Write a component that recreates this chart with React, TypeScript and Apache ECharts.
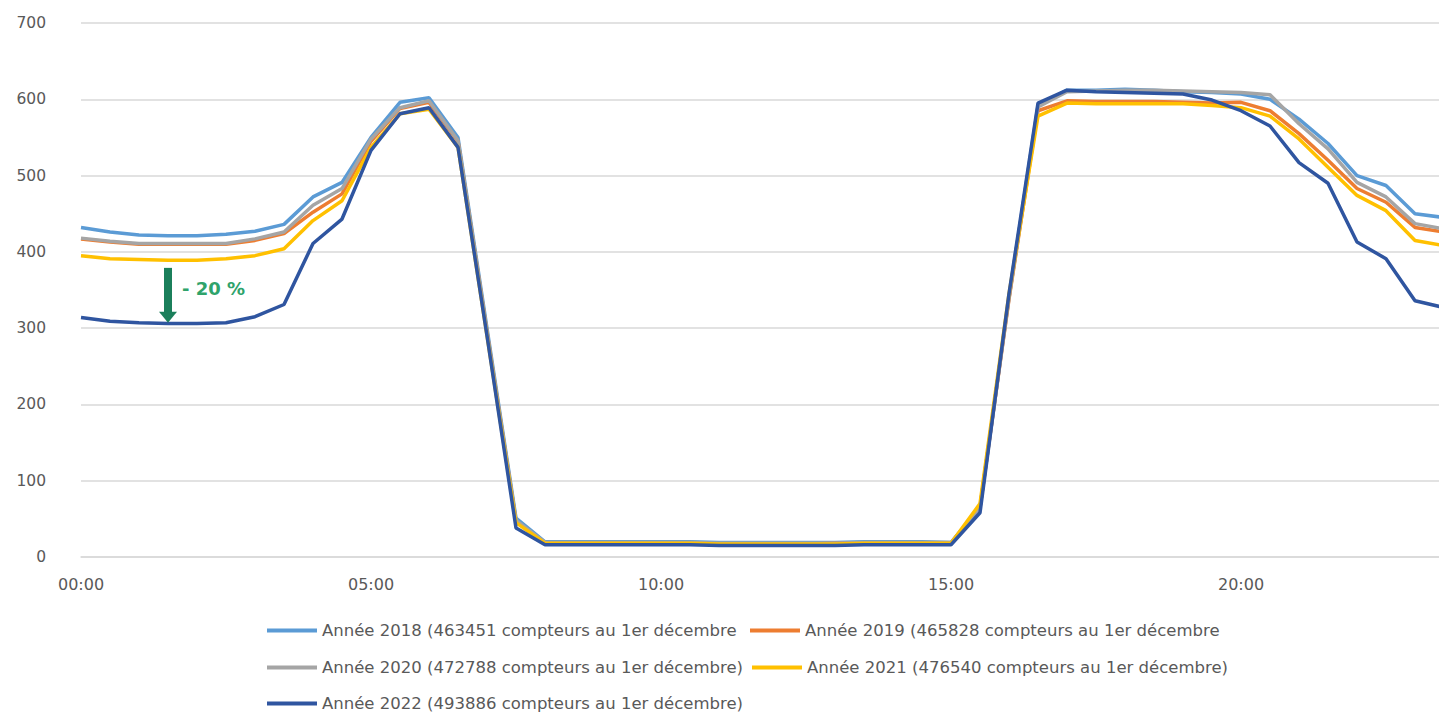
import React, { useEffect, useRef } from "react";
import * as echarts from "echarts";

const times = [
  "00:00", "00:30", "01:00", "01:30", "02:00", "02:30", "03:00", "03:30",
  "04:00", "04:30", "05:00", "05:30", "06:00", "06:30", "07:00", "07:30",
  "08:00", "08:30", "09:00", "09:30", "10:00", "10:30", "11:00", "11:30",
  "12:00", "12:30", "13:00", "13:30", "14:00", "14:30", "15:00", "15:30",
  "16:00", "16:30", "17:00", "17:30", "18:00", "18:30", "19:00", "19:30",
  "20:00", "20:30", "21:00", "21:30", "22:00", "22:30", "23:00", "23:30",
];

const names = [
  "Année 2018 (463451 compteurs au 1er décembre",
  "Année 2019 (465828 compteurs au 1er décembre",
  "Année 2020 (472788 compteurs au 1er décembre)",
  "Année 2021 (476540 compteurs au 1er décembre)",
  "Année 2022 (493886 compteurs au 1er décembre)",
];

const colors = ["#5B9BD5", "#ED7D31", "#A5A5A5", "#FFC000", "#2F55A0"];

const y2018 = [
  432, 426, 422, 421, 421, 423, 427, 436, 472, 491, 550, 596, 602, 550, 300, 51,
  20, 20, 20, 20, 20, 20, 19, 19, 19, 19, 19, 20, 20, 20, 19, 65,
  340, 592, 612, 612, 613, 612, 610, 609, 607, 600, 574, 542, 500, 487, 450, 445,
];
const y2019 = [
  417, 413, 410, 410, 410, 410, 415, 424, 452, 476, 545, 588, 596, 545, 295, 47,
  18, 18, 18, 18, 18, 18, 17, 17, 17, 17, 18, 18, 18, 18, 18, 65,
  338, 585, 598, 597, 597, 597, 596, 595, 596, 585, 555, 520, 483, 465, 432, 426,
];
const y2020 = [
  418, 414, 411, 411, 411, 411, 417, 426, 461, 483, 548, 589, 598, 546, 295, 48,
  19, 19, 19, 19, 19, 19, 18, 18, 18, 18, 18, 19, 19, 19, 19, 65,
  340, 590, 610, 611, 612, 612, 611, 610, 609, 606, 568, 535, 491, 472, 437, 430,
];
const y2021 = [
  395, 391, 390, 389, 389, 391, 395, 404, 441, 467, 537, 581, 587, 537, 290, 45,
  18, 18, 18, 18, 18, 18, 17, 17, 17, 17, 17, 18, 18, 18, 18, 70,
  345, 578, 595, 594, 594, 594, 594, 592, 589, 578, 548, 511, 474, 454, 415, 408,
];
const y2022 = [
  314, 309, 307, 306, 306, 307, 315, 331, 411, 443, 533, 581, 589, 537, 290, 38,
  16, 16, 16, 16, 16, 16, 15, 15, 15, 15, 15, 16, 16, 16, 16, 58,
  345, 595, 612, 610, 609, 608, 607, 599, 585, 565, 517, 490, 413, 391, 336, 327,
];

const seriesData = [y2018, y2019, y2020, y2021, y2022];

const yTicks = { min: 0, max: 700, interval: 100 };

const legendPos = [
  { left: 267, top: 622 },
  { left: 750, top: 622 },
  { left: 267, top: 659 },
  { left: 752, top: 659 },
  { left: 267, top: 695 },
];

const FONT = "DejaVu Sans";

export default function App() {
  const ref = useRef<HTMLDivElement>(null);

  useEffect(() => {
    if (!ref.current) return;
    const chart = echarts.init(ref.current, undefined, { renderer: "svg" });
    chart.setOption({
      animation: false,
      backgroundColor: "#ffffff",
      grid: { left: 81, top: 23, right: 26, bottom: 160, containLabel: false },
      xAxis: {
        type: "category",
        data: times,
        boundaryGap: false,
        axisTick: { show: false },
        axisLine: { show: true, lineStyle: { color: "#D9D9D9", width: 1.5 } },
        axisLabel: {
          interval: 9,
          color: "#595959",
          fontFamily: FONT,
          fontSize: 16,
          margin: 19,
        },
        splitLine: { show: false },
      },
      yAxis: {
        type: "value",
        min: yTicks.min,
        max: yTicks.max,
        interval: yTicks.interval,
        axisLine: { show: false },
        axisTick: { show: false },
        axisLabel: {
          color: "#595959",
          fontFamily: FONT,
          fontSize: 15.5,
          margin: 35,
        },
        splitLine: { lineStyle: { color: "#D9D9D9", width: 1.5 } },
      },
      legend: names.map((n, i) => ({
        data: [n],
        left: legendPos[i].left,
        top: legendPos[i].top,
        padding: 0,
        itemWidth: 50,
        itemHeight: 4,
        icon: "rect",
        textStyle: { color: "#595959", fontFamily: FONT, fontSize: 16.5 },
      })),
      series: names.map((n, i) => ({
        name: n,
        type: "line",
        data: seriesData[i],
        symbol: "none",
        color: colors[i],
        lineStyle: { width: 3.5, color: colors[i] },
        itemStyle: { color: colors[i] },
        z: 2 + i,
      })),
    });

    const top = chart.convertToPixel({ gridIndex: 0 }, [3, 379]) as number[];
    const tip = chart.convertToPixel({ gridIndex: 0 }, [3, 307]) as number[];
    const cx = top[0];
    chart.setOption({
      graphic: [
        {
          type: "rect",
          shape: { x: cx - 4, y: top[1], width: 8, height: tip[1] - top[1] - 10 },
          style: { fill: "#1B7F5B" },
          z: 100,
        },
        {
          type: "polygon",
          shape: {
            points: [
              [cx - 9, tip[1] - 11],
              [cx + 9, tip[1] - 11],
              [cx, tip[1]],
            ],
          },
          style: { fill: "#1B7F5B" },
          z: 100,
        },
        {
          type: "text",
          x: cx + 14,
          y: (top[1] + tip[1]) / 2 - 7,
          style: {
            text: "- 20 %",
            fill: "#2FA36B",
            font: "bold 18px " + FONT,
            textVerticalAlign: "middle",
          },
          z: 100,
        },
      ],
    });

    return () => chart.dispose();
  }, []);

  return (
    <div
      style={{
        position: "fixed",
        left: 0,
        top: 0,
        width: 1439,
        height: 717,
        overflow: "hidden",
        background: "#fff",
      }}
    >
      <div ref={ref} style={{ width: 1470, height: 717 }} />
    </div>
  );
}
